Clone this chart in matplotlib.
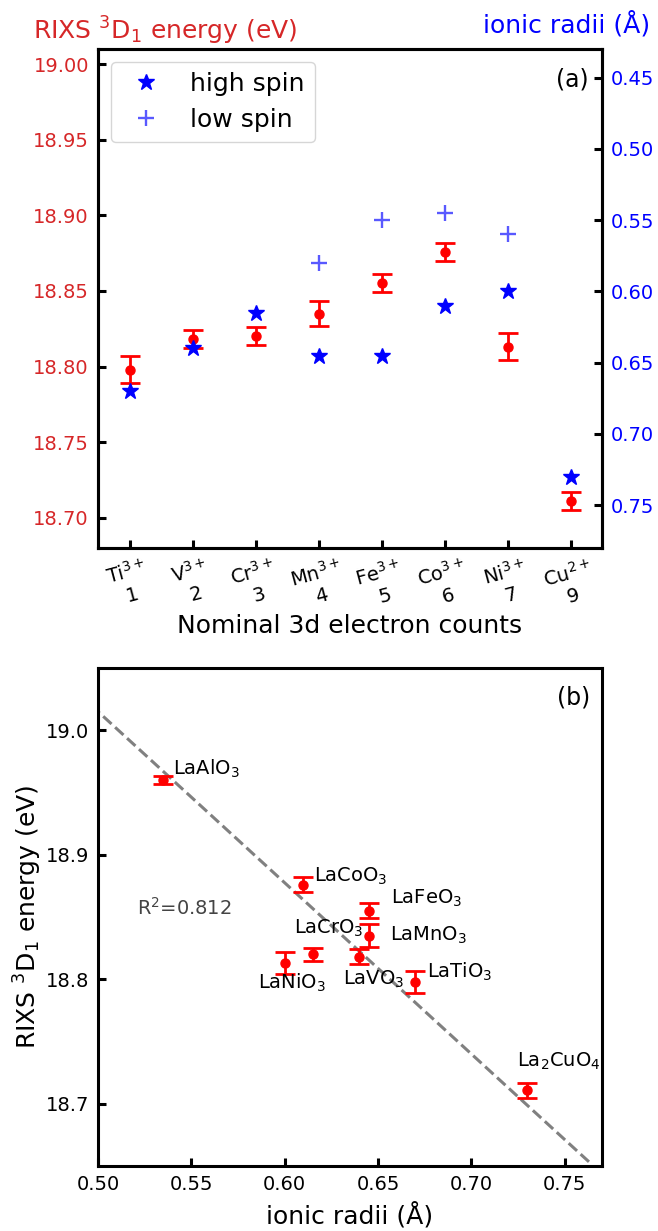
import matplotlib
matplotlib.use('Agg')
import matplotlib.pyplot as plt
import numpy as np

# ---------------- data: panel (a) ----------------
ions = ['Ti$^{3+}$', 'V$^{3+}$', 'Cr$^{3+}$', 'Mn$^{3+}$', 'Fe$^{3+}$',
        'Co$^{3+}$', 'Ni$^{3+}$', 'Cu$^{2+}$']
electron_counts = [1, 2, 3, 4, 5, 6, 7, 9]
rixs_energy = [18.798, 18.818, 18.820, 18.835, 18.855, 18.876, 18.813, 18.711]
rixs_err = [0.009, 0.006, 0.006, 0.0085, 0.006, 0.006, 0.009, 0.006]
radius_high_spin = [0.67, 0.64, 0.615, 0.645, 0.645, 0.61, 0.60, 0.73]
radius_low_spin = [np.nan, np.nan, np.nan, 0.58, 0.55, 0.545, 0.56, np.nan]
left_ticks = [18.70, 18.75, 18.80, 18.85, 18.90, 18.95, 19.00]
right_ticks = [0.45, 0.50, 0.55, 0.60, 0.65, 0.70, 0.75]

# ---------------- data: panel (b) ----------------
compounds = ['LaAlO$_3$', 'LaCoO$_3$', 'LaFeO$_3$', 'LaMnO$_3$', 'LaCrO$_3$',
             'LaNiO$_3$', 'LaVO$_3$', 'LaTiO$_3$', 'La$_2$CuO$_4$']
comp_radius = [0.535, 0.61, 0.645, 0.645, 0.615, 0.60, 0.64, 0.67, 0.73]
comp_energy = [18.960, 18.876, 18.855, 18.835, 18.820, 18.813, 18.818, 18.798, 18.711]
comp_err = [0.003, 0.006, 0.006, 0.009, 0.0055, 0.009, 0.006, 0.009, 0.006]
label_x = [0.5403, 0.6156, 0.6567, 0.6562, 0.6048, 0.5859, 0.6310, 0.6763, 0.7242]
label_y = [18.969, 18.883, 18.865, 18.835, 18.841, 18.797, 18.800, 18.806, 18.734]
fit_slope = -1.375
fit_intercept = 19.7025
fit_range = [0.49, 0.7635]
r_squared = 0.812
bottom_xticks = [0.50, 0.55, 0.60, 0.65, 0.70, 0.75]
bottom_yticks = [18.7, 18.8, 18.9, 19.0]

W, H = 658, 1231
fig = plt.figure(figsize=(W / 100, H / 100), dpi=100)

spine_w = 2.2
TICK_FS = 14
def style(ax):
    for s in ax.spines.values():
        s.set_linewidth(spine_w)

# ---------------- panel (a) ----------------
ax1 = fig.add_axes([98 / W, 1 - 548 / H, 504 / W, 499 / H])
ax2 = ax1.twinx()
x = np.arange(len(ions))
ax1.errorbar(x, rixs_energy, yerr=rixs_err, fmt='o', color='red', ms=6.5,
             elinewidth=2, capsize=7, capthick=2, zorder=3)
ax1.set_ylim(18.68, 19.01)
ax1.set_xlim(-0.5, len(ions) - 0.5)
ax1.set_yticks(left_ticks)
ax1.set_yticklabels([f'{v:.2f}' for v in left_ticks], fontsize=TICK_FS,
                    color='tab:red')
ax1.set_xticks(x)
ax1.set_xticklabels([f'{i}\n{n}' for i, n in zip(ions, electron_counts)],
                    rotation=15, fontsize=TICK_FS)
ax1.tick_params(axis='y', direction='in', length=6, width=spine_w, pad=6.5)
ax1.tick_params(axis='x', direction='in', length=6, width=spine_w, pad=6)
ax1.set_xlabel('Nominal 3d electron counts', fontsize=18, labelpad=1)

ax2.plot(x, radius_high_spin, '*', color='blue', ms=12, label='high spin')
ax2.plot(x, radius_low_spin, '+', color='blue', alpha=0.65, ms=12, mew=1.7,
         label='low spin')
ax2.set_ylim(0.78, 0.43)
ax2.set_yticks(right_ticks)
ax2.set_yticklabels([f'{v:.2f}' for v in right_ticks], fontsize=TICK_FS,
                    color='blue')
ax2.tick_params(axis='y', direction='in', length=6, width=spine_w, pad=6.5)
ax2.legend(loc='upper left', fontsize=18)
ax2.text(0.974, 0.938, '(a)', transform=ax2.transAxes, ha='right', va='center',
         fontsize=17)
style(ax1)
style(ax2)

fig.text(33 / W, 1 - 40 / H, 'RIXS $^3$D$_1$ energy (eV)', color='tab:red',
         fontsize=18, ha='left', va='baseline')
fig.text(650 / W, 1 - 32 / H, 'ionic radii (Å)', color='blue',
         fontsize=18, ha='right', va='baseline')

# ---------------- panel (b) ----------------
ax3 = fig.add_axes([98 / W, 1 - 1166 / H, 504 / W, 498 / H])
xf = np.array(fit_range)
ax3.plot(xf, fit_intercept + fit_slope * xf, '--', color='gray', lw=2.2, zorder=1)
ax3.errorbar(comp_radius, comp_energy, yerr=comp_err, fmt='o', color='red',
             ms=6.5, elinewidth=2, capsize=7, capthick=2, zorder=3)
for name, lx, ly in zip(compounds, label_x, label_y):
    ax3.text(lx, ly, name, fontsize=14, ha='left', va='center', zorder=4)
ax3.text(0.521, 18.857, f'R$^2$={r_squared}', fontsize=14, color='#444444',
         ha='left', va='center')
ax3.set_xlim(0.5, 0.77)
ax3.set_ylim(18.65, 19.05)
ax3.set_xticks(bottom_xticks)
ax3.set_xticklabels([f'{v:.2f}' for v in bottom_xticks], fontsize=TICK_FS)
ax3.set_yticks(bottom_yticks)
ax3.set_yticklabels([f'{v:.1f}' for v in bottom_yticks], fontsize=TICK_FS)
ax3.tick_params(direction='in', length=6, width=spine_w, pad=6.5)
ax3.set_xlabel('ionic radii (Å)', fontsize=18, labelpad=6)
ax3.set_ylabel('RIXS $^3$D$_1$ energy (eV)', fontsize=18, labelpad=1)
ax3.text(0.976, 0.940, '(b)', transform=ax3.transAxes, ha='right', va='center',
         fontsize=17)
style(ax3)

fig.savefig('out.png', dpi=100)
